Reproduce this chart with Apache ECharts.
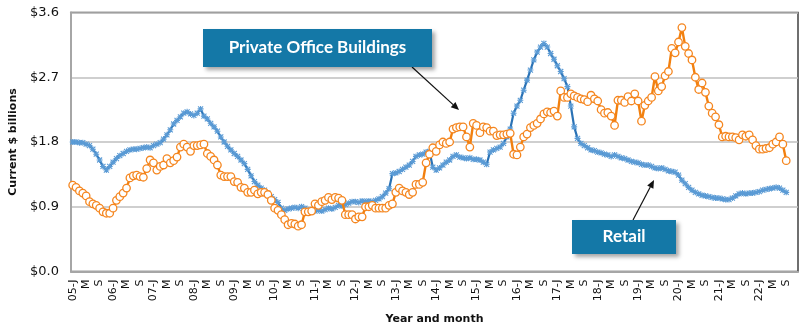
<!DOCTYPE html>
<html>
<head>
<meta charset="utf-8">
<script src="https://cdn.jsdelivr.net/npm/echarts@6/dist/echarts.min.js"></script>
<style>
html,body{margin:0;padding:0;background:#fff;}
#c{width:800px;height:331px;}
</style>
</head>
<body>
<div id="c"></div>
<script>
// Categories: Jan 2005 .. Dec 2022 (monthly); data through Sep 2022
const years = [5,6,7,8,9,10,11,12,13,14,15,16,17,18,19,20,21,22];
const monthLetters = ['J','F','M','A','M','J','J','A','S','O','N','D'];
const yTicks = [0, 0.9, 1.8, 2.7, 3.6];

// Retail ($ billions)
const retail = [
1.80,1.80,1.79,1.79,1.77,1.75,1.70,1.63,1.55,1.46,1.41,1.46,
1.52,1.57,1.61,1.64,1.67,1.69,1.70,1.70,1.71,1.72,1.73,1.72,
1.75,1.77,1.79,1.84,1.90,1.97,2.05,2.10,2.15,2.20,2.22,2.19,
2.17,2.20,2.26,2.16,2.12,2.06,2.01,1.95,1.87,1.80,1.74,1.69,
1.64,1.60,1.55,1.50,1.42,1.33,1.25,1.20,1.16,1.13,1.09,1.04,
1.00,0.96,0.88,0.85,0.87,0.88,0.89,0.88,0.90,0.88,0.85,0.83,
0.84,0.85,0.84,0.86,0.88,0.87,0.89,0.92,0.91,0.93,0.95,0.97,
0.97,0.96,0.98,0.97,0.98,0.97,0.99,1.01,1.04,1.09,1.15,1.36,
1.37,1.39,1.42,1.45,1.48,1.53,1.60,1.62,1.63,1.66,1.67,1.45,
1.41,1.44,1.48,1.52,1.55,1.60,1.62,1.59,1.58,1.57,1.58,1.56,
1.56,1.55,1.52,1.49,1.66,1.69,1.71,1.73,1.78,1.87,1.98,2.20,
2.30,2.38,2.52,2.66,2.80,2.94,3.05,3.12,3.17,3.12,3.03,2.95,
2.86,2.78,2.68,2.57,2.30,2.01,1.85,1.78,1.75,1.72,1.69,1.68,
1.66,1.65,1.63,1.62,1.60,1.62,1.60,1.58,1.57,1.55,1.53,1.52,
1.51,1.49,1.48,1.48,1.46,1.44,1.43,1.44,1.42,1.40,1.39,1.38,
1.34,1.27,1.22,1.17,1.13,1.10,1.08,1.06,1.05,1.04,1.03,1.02,
1.02,1.01,1.00,1.00,1.02,1.05,1.08,1.09,1.08,1.09,1.09,1.10,
1.11,1.13,1.14,1.15,1.16,1.17,1.16,1.13,1.10
];

// Private Office Buildings ($ billions)
const office = [
1.20,1.17,1.12,1.09,1.05,0.97,0.94,0.92,0.88,0.83,0.81,0.81,
0.88,0.99,1.04,1.09,1.16,1.30,1.33,1.34,1.32,1.31,1.43,1.55,
1.51,1.41,1.46,1.48,1.57,1.51,1.54,1.59,1.73,1.77,1.73,1.67,
1.75,1.75,1.76,1.77,1.64,1.60,1.55,1.48,1.34,1.32,1.32,1.32,
1.25,1.24,1.17,1.16,1.10,1.10,1.13,1.08,1.10,1.10,1.07,0.99,
0.88,0.85,0.79,0.72,0.65,0.67,0.66,0.63,0.65,0.83,0.83,0.84,
0.94,0.92,0.97,0.99,1.03,1.00,1.03,1.02,0.99,0.79,0.79,0.79,
0.73,0.76,0.76,0.90,0.90,0.92,0.88,0.88,0.88,0.88,0.92,0.94,
1.10,1.16,1.12,1.10,1.07,1.10,1.21,1.21,1.24,1.51,1.63,1.72,
1.67,1.76,1.80,1.78,1.80,1.98,2.00,2.01,2.01,1.87,1.73,2.06,
2.03,1.93,2.01,2.00,1.95,1.95,1.89,1.90,1.90,1.91,1.92,1.63,
1.62,1.73,1.87,1.91,2.00,2.03,2.06,2.12,2.19,2.22,2.21,2.23,
2.16,2.51,2.42,2.42,2.47,2.44,2.42,2.40,2.39,2.36,2.45,2.40,
2.37,2.25,2.20,2.21,2.16,2.03,2.38,2.38,2.35,2.43,2.37,2.47,
2.37,2.09,2.31,2.37,2.42,2.71,2.51,2.57,2.72,2.78,3.10,3.04,
3.19,3.39,3.13,3.03,2.94,2.70,2.53,2.62,2.49,2.30,2.20,2.15,
2.04,1.87,1.88,1.87,1.87,1.86,1.83,1.90,1.88,1.90,1.83,1.75,
1.70,1.70,1.71,1.72,1.77,1.80,1.87,1.77,1.54
];

const categories = [];
years.forEach(y => {
  monthLetters.forEach((m, k) => {
    categories.push(k === 0 ? String(y).padStart(2,'0') + '-' + m : m);
  });
});

const FONT = 'DejaVu Sans';
const chart = echarts.init(document.getElementById('c'), null, {renderer:'canvas'});

const starPath = 'path://M0,0L10,10M10,0L0,10M5,-1L5,11M-1,5L11,5';

function arrow(x1,y1,x2,y2){
  const a = Math.atan2(y2-y1, x2-x1), L = 8, W = 3.5;
  const bx = x2 - L*Math.cos(a), by = y2 - L*Math.sin(a);
  return [
    {type:'line', shape:{x1:x1,y1:y1,x2:bx,y2:by}, style:{stroke:'#111', lineWidth:1.2}, z:50},
    {type:'polygon', shape:{points:[[x2,y2],[bx - W*Math.sin(a), by + W*Math.cos(a)],[bx + W*Math.sin(a), by - W*Math.cos(a)]]}, style:{fill:'#111'}, z:50}
  ];
}

function box(x,y,w,h,text){
  return [
    {type:'rect', shape:{x:x,y:y,width:w,height:h}, style:{fill:'#1478A7', shadowBlur:4, shadowOffsetX:3, shadowOffsetY:3, shadowColor:'rgba(0,0,0,0.35)'}, z:60},
    {type:'text', x:x+w/2, y:y+h/2, style:{text:text, fill:'#fff', font:'bold 17px Lato', align:'center', verticalAlign:'middle'}, z:61}
  ];
}

chart.setOption({
  animation:false,
  grid:{left:70, right:2, top:12.5, bottom:59.5, show:true, borderColor:'#404040', borderWidth:1.5, backgroundColor:'#fff'},
  xAxis:{
    type:'category', data:categories, boundaryGap:true,
    axisLine:{show:true, lineStyle:{color:'#A6A6A6', width:2}},
    axisTick:{show:false},
    axisLabel:{interval:3, rotate:90, fontFamily:FONT, fontSize:11, color:'#111', margin:8},
    name:'Year and month', nameLocation:'middle', nameGap:42,
    nameTextStyle:{fontFamily:FONT, fontWeight:'bold', fontSize:11, color:'#111'}
  },
  yAxis:{
    type:'value', min:yTicks[0], max:yTicks[yTicks.length-1], interval:0.9,
    axisLine:{show:true, lineStyle:{color:'#A6A6A6', width:2}},
    axisTick:{show:false},
    splitLine:{lineStyle:{color:'#BFBFBF', width:1.5}},
    axisLabel:{formatter:v => '$' + v.toFixed(1), fontFamily:FONT, fontSize:13, color:'#111', margin:12},
    name:'Current $ billions', nameLocation:'middle', nameGap:52,
    nameTextStyle:{fontFamily:FONT, fontWeight:'bold', fontSize:11, color:'#111'}
  },
  series:[
    {
      name:'Retail', type:'line', data:retail, showAllSymbol:true,
      symbol:starPath, symbolSize:6,
      lineStyle:{color:'#2A72B5', width:2.2},
      itemStyle:{color:'#4F8FD0', borderColor:'#5B9BD5', borderWidth:1.1},
      z:3
    },
    {
      name:'Private Office Buildings', type:'line', data:office, showAllSymbol:true,
      symbol:'circle', symbolSize:7.5,
      lineStyle:{color:'#F2800F', width:2.4},
      itemStyle:{color:'#fff', borderColor:'#F5861F', borderWidth:1.3},
      z:4
    }
  ],
  graphic:[].concat(
    arrow(412,67,459,110),
    arrow(633,220,654,180),
    box(203,29,229,38,'Private Office Buildings'),
    box(572,220,104,34,'Retail')
  )
});
</script>
</body>
</html>
